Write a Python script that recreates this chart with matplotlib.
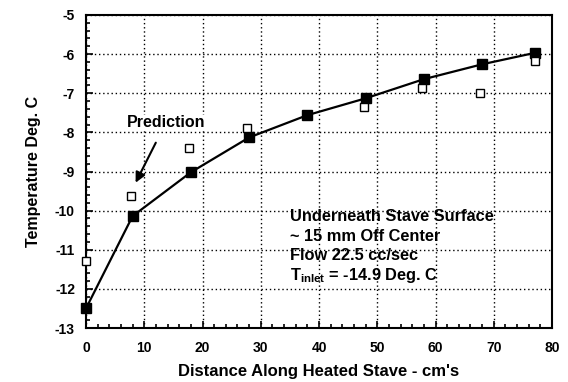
import matplotlib
matplotlib.use("Agg")
import matplotlib.pyplot as plt
from matplotlib.ticker import MultipleLocator

plt.rcParams['font.family'] = ['Liberation Sans', 'DejaVu Sans']

# Measured (filled squares)
meas_x = [0, 8, 18, 28, 38, 48, 58, 68, 77]
meas_y = [-12.5, -10.14, -9.02, -8.13, -7.56, -7.13, -6.64, -6.26, -5.97]
# Prediction (open squares)
pred_x = [0, 7.7, 17.7, 27.6, 47.7, 57.7, 67.6, 77]
pred_y = [-11.28, -9.62, -8.4, -7.9, -7.36, -6.87, -7.0, -6.17]

xticks = [0, 10, 20, 30, 40, 50, 60, 70, 80]
yticks = [-13, -12, -11, -10, -9, -8, -7, -6, -5]

note_lines = ["Underneath Stave Surface", "~ 15 mm Off Center", "Flow 22.5 cc/sec",
              "$\\mathregular{T_{inlet}}$ = -14.9 Deg. C"]

fig = plt.figure(figsize=(5.68, 3.82), dpi=100)
ax = fig.add_axes([86/568, 1-328/382, (552-86)/568, (328-15)/382])

ax.plot(meas_x, meas_y, color='black', lw=1.6, zorder=3, clip_on=False)
ax.plot(meas_x, meas_y, ls='none', marker='s', ms=7.5, mfc='black', mec='black', zorder=4, clip_on=False)
ax.plot(pred_x, pred_y, ls='none', marker='s', ms=6, mfc='white', mec='black', mew=1.0, zorder=4, clip_on=False)

ax.set_xlim(0, 80)
ax.set_ylim(-13, -5)
ax.set_xticks(xticks)
ax.set_yticks(yticks)
ax.set_xticklabels([str(v) for v in xticks], fontweight='bold', fontsize=10)
ax.set_yticklabels([str(v) for v in yticks], fontweight='bold', fontsize=10)
ax.xaxis.set_minor_locator(MultipleLocator(2))
ax.yaxis.set_minor_locator(MultipleLocator(0.2))
ax.tick_params(which='both', direction='in', color='black', width=1.2)
ax.tick_params(which='major', length=5)
ax.tick_params(axis='x', which='major', pad=9)
ax.tick_params(axis='y', which='major', pad=8)
ax.tick_params(which='minor', length=3)
ax.grid(True, which='major', ls=(0, (1, 2)), color='black', lw=1.0)
for s in ax.spines.values():
    s.set_linewidth(1.5)

ax.set_xlabel("Distance Along Heated Stave - cm's", fontweight='bold', fontsize=12, labelpad=7)
ax.set_ylabel("Temperature Deg. C", fontweight='bold', fontsize=11.5, labelpad=10)

note_y = [-10.16, -10.67, -11.15, -11.66]
for txt, yy in zip(note_lines, note_y):
    ax.text(35.0, yy, txt, fontsize=11.8, fontweight='bold', va='center', ha='left', zorder=5)

ax.text(7.0, -7.76, "Prediction", fontweight='bold', fontsize=11.5, ha='left', va='center',
        bbox=dict(facecolor='white', edgecolor='none', pad=0.3), zorder=5)
ax.annotate("", xy=(8.3, -9.35), xytext=(12.2, -8.2),
            arrowprops=dict(arrowstyle='-|>', color='black', lw=1.5, mutation_scale=15), zorder=5)

fig.savefig("out.png", dpi=100)
